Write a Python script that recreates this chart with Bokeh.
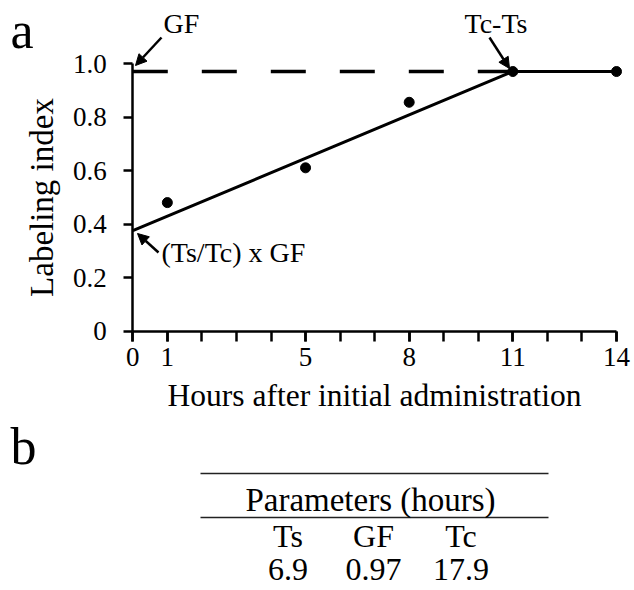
from bokeh.plotting import figure
from bokeh.models import (Range1d, FixedTicker, CustomJSTickFormatter, Label, Arrow,
                          NormalHead, ColumnDataSource)
from bokeh.core.properties import value
from bokeh.embed import file_html
from bokeh.resources import INLINE

# ---- data ----
hours = [1, 5, 8, 11, 14]
labeling_index = [0.48, 0.61, 0.855, 0.97, 0.97]
fit_hours = [0, 11, 14]
fit_index = [0.375, 0.97, 0.97]
gf_hours = [0, 11]
gf_index = [0.97, 0.97]
x_tick_labels = [0, 1, 5, 8, 11, 14]
y_ticks = [0, 0.2, 0.4, 0.6, 0.8, 1.0]
param_names = ["Ts", "GF", "Tc"]
param_values = ["6.9", "0.97", "17.9"]

FONT = "Liberation Serif"
W, H = 634, 590

# layout: pixel position of the data origin and scale (px per unit)
X0_PX, X_SCALE = 132.3, 34.55
Y0_PX, Y_SCALE = 330.5, 267.5
BASE_FIX = 0.375  # em shift to put the text baseline where wanted

def px_x(px):
    return (px - X0_PX) / X_SCALE

def px_y(py):
    return (Y0_PX - py) / Y_SCALE

p = figure(width=W, height=H, output_backend="svg", toolbar_location=None,
           x_range=Range1d(px_x(0), px_x(W)), y_range=Range1d(px_y(H), px_y(0)),
           min_border=0)
p.outline_line_color = None
p.grid.visible = False
p.background_fill_color = "white"
p.border_fill_color = "white"

xa = p.xaxis[0]
xa.ticker = FixedTicker(ticks=x_tick_labels, minor_ticks=list(range(0, 15)))
xa.bounds = (0, 14)
xa.fixed_location = 0
ya = p.yaxis[0]
ya.ticker = FixedTicker(ticks=y_ticks)
ya.bounds = (0, 1.0)
ya.fixed_location = 0
ya.formatter = CustomJSTickFormatter(code="return tick == 0 ? '0' : tick.toFixed(1);")

for ax in (xa, ya):
    ax.axis_line_width = 2.5
    ax.axis_line_color = "black"
    ax.major_tick_line_width = 2.5
    ax.major_tick_line_color = "black"
    ax.major_tick_in = 0
    ax.major_tick_out = 10
    ax.minor_tick_line_width = 2.5
    ax.minor_tick_line_color = "black"
    ax.minor_tick_in = 0
    ax.minor_tick_out = 10
    ax.major_label_text_font = FONT
    ax.major_label_text_font_size = "27px"
    ax.major_label_text_color = "black"
    ax.axis_label_text_font = FONT
    ax.axis_label_text_font_style = "normal"
    ax.axis_label_text_color = "black"

ya.minor_tick_out = 0
ya.major_tick_out = 9
xa.axis_label = "Hours after initial administration"
ya.axis_label = "Labeling index"
xa.axis_label_text_font_size = "31.5px"
ya.axis_label_text_font_size = "33px"
xa.major_label_standoff = 7
ya.major_label_standoff = 17
xa.axis_label_standoff = 8
ya.axis_label_standoff = 10

p.line(gf_hours, gf_index, line_color="black", line_width=3.5, line_dash="35 34")
p.line(fit_hours, fit_index, line_color="black", line_width=3)
p.scatter(hours, labeling_index, size=10, color="black")

def lab(x, y, text, size=28, align="left"):
    p.add_layout(Label(x=px_x(x), y=px_y(y - BASE_FIX * size), text=text,
                       text_font=FONT, text_font_size=f"{size}px",
                       text_color="black", text_align=align,
                       text_baseline="alphabetic"))

lab(10, 49, "a", size=52)
lab(163, 33, "GF")
lab(464, 33, "Tc-Ts")
lab(161, 262, "(Ts/Tc) x GF")

def arr(x0, y0, x1, y1):
    p.add_layout(Arrow(end=NormalHead(size=11, fill_color="black", line_color="black",
                                      line_width=1),
                       x_start=px_x(x0), y_start=px_y(y0), x_end=px_x(x1), y_end=px_y(y1),
                       line_width=2.5, line_color="black"))

arr(161, 37, 135, 65)
arr(489, 37, 509, 68)
arr(158, 252, 137, 233)

# ---- panel b: parameter table ----
lab(10, 465, "b", size=52)
p.segment(x0=[px_x(200)] * 2, y0=[px_y(473), px_y(517)],
          x1=[px_x(548)] * 2, y1=[px_y(473), px_y(517)],
          line_color="#222222", line_width=1.6)
lab(370, 512, "Parameters (hours)", size=33, align="center")
TS = 32
src = ColumnDataSource(dict(x=[px_x(287.5), px_x(373), px_x(460.5)],
                            name=param_names, val=param_values))
p.text(x="x", y=px_y(547 - BASE_FIX * TS), text="name", source=src,
       text_font=value(FONT), text_font_size=f"{TS}px", text_color="black",
       text_align="center", text_baseline="alphabetic")
p.text(x="x", y=px_y(581 - BASE_FIX * TS), text="val", source=src,
       text_font=value(FONT), text_font_size=f"{TS}px", text_color="black",
       text_align="center", text_baseline="alphabetic")

open("out.html", "w").write(file_html(p, INLINE))
